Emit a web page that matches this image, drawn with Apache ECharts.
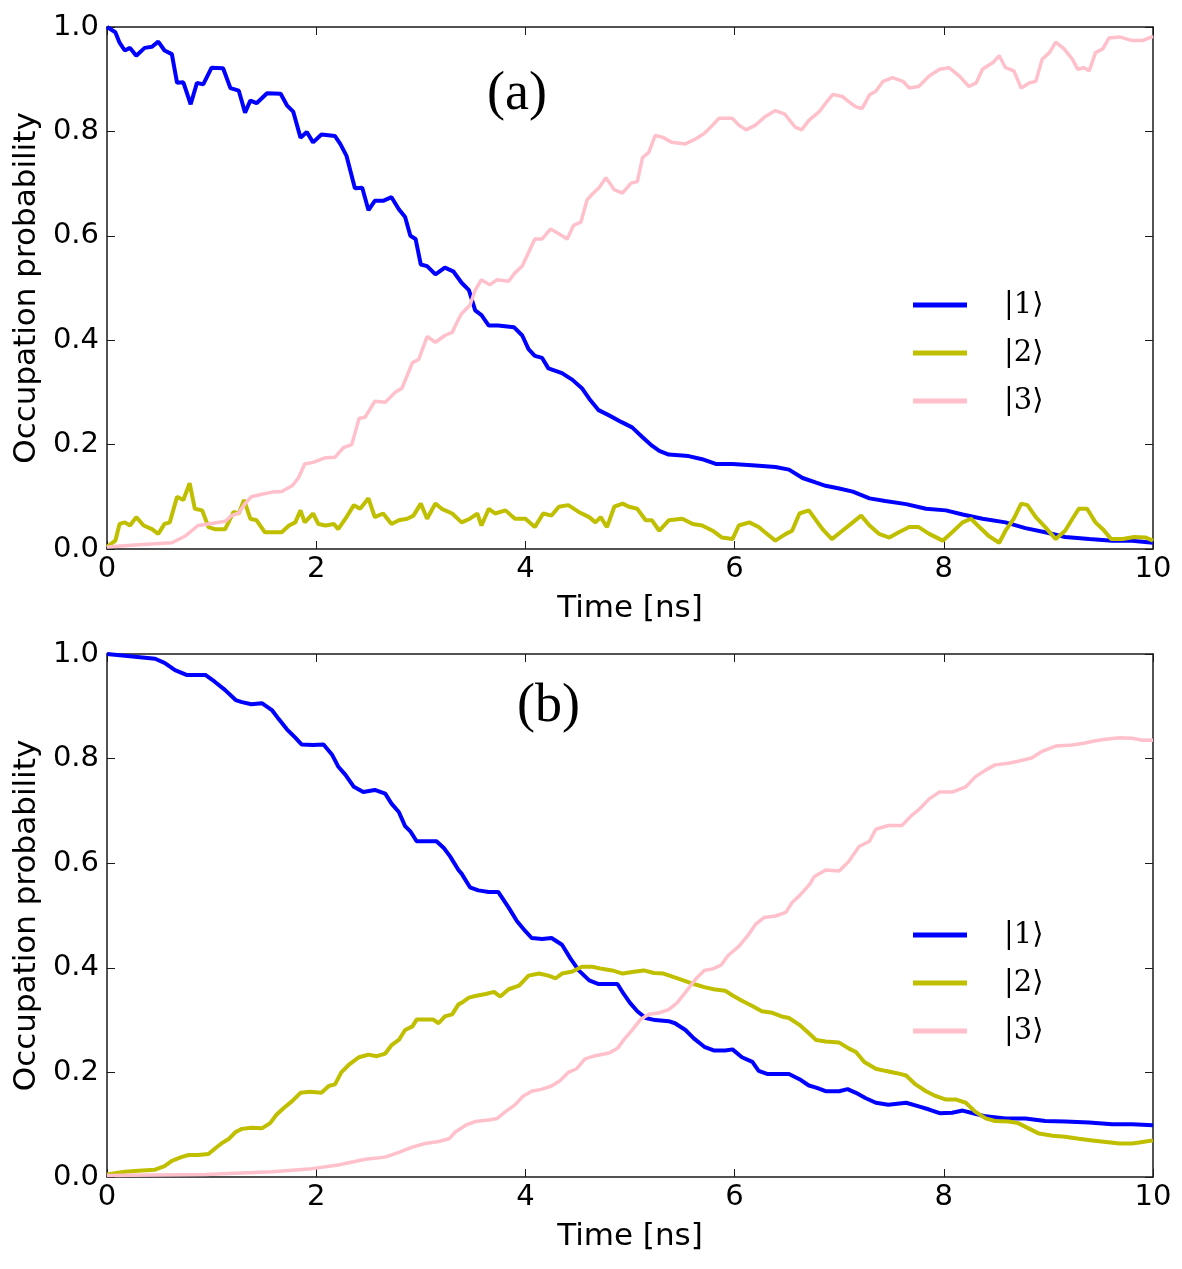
<!DOCTYPE html>
<html>
<head>
<meta charset="utf-8">
<title>Occupation probability</title>
<script src="https://cdn.jsdelivr.net/npm/echarts@6.0.0/dist/echarts.min.js"></script>
<style>
  html, body { margin: 0; padding: 0; background: #fff; }
  #chart { width: 1182px; height: 1269px; }
</style>
</head>
<body>
<div id="chart"></div>
<script>
// legend names and panel tags
const stateNames = ['|1\u27E9', '|2\u27E9', '|3\u27E9'];
const panelTags = ['(a)', '(b)'];
const xTicks = [0, 2, 4, 6, 8, 10];
const yTicks = [0, 0.2, 0.4, 0.6, 0.8, 1.0];

// panel (a): [time ns, probability]
const a1 = [[0,1.0],[0.08,0.99],[0.12,0.97],[0.17,0.955],[0.22,0.96],[0.28,0.945],[0.36,0.96],[0.43,0.962],[0.49,0.972],[0.55,0.955],[0.62,0.948],[0.67,0.893],[0.73,0.894],[0.80,0.852],[0.86,0.893],[0.92,0.89],[1.0,0.922],[1.11,0.921],[1.18,0.883],[1.26,0.878],[1.32,0.836],[1.37,0.859],[1.43,0.854],[1.53,0.873],[1.66,0.872],[1.72,0.85],[1.78,0.838],[1.85,0.788],[1.91,0.799],[1.97,0.779],[2.05,0.794],[2.18,0.791],[2.23,0.776],[2.29,0.753],[2.37,0.691],[2.44,0.692],[2.50,0.649],[2.56,0.667],[2.64,0.667],[2.72,0.674],[2.79,0.651],[2.85,0.636],[2.90,0.6],[2.95,0.594],[3.0,0.545],[3.06,0.542],[3.14,0.526],[3.23,0.539],[3.31,0.532],[3.39,0.51],[3.46,0.496],[3.52,0.457],[3.58,0.448],[3.65,0.428],[3.74,0.428],[3.89,0.425],[3.97,0.409],[4.03,0.383],[4.09,0.37],[4.16,0.366],[4.22,0.346],[4.35,0.337],[4.45,0.324],[4.54,0.308],[4.61,0.288],[4.70,0.266],[4.80,0.256],[4.92,0.243],[5.02,0.233],[5.12,0.214],[5.21,0.198],[5.28,0.188],[5.37,0.181],[5.56,0.178],[5.69,0.172],[5.82,0.163],[5.98,0.163],[6.20,0.16],[6.39,0.157],[6.52,0.152],[6.65,0.136],[6.78,0.127],[6.87,0.121],[7.0,0.116],[7.13,0.11],[7.29,0.097],[7.44,0.092],[7.64,0.086],[7.83,0.077],[8.02,0.074],[8.18,0.066],[8.37,0.058],[8.59,0.051],[8.78,0.04],[8.97,0.032],[9.16,0.023],[9.39,0.019],[9.61,0.016],[9.80,0.016],[10,0.012]];
const a2 = [[0,0.004],[0.08,0.016],[0.12,0.048],[0.17,0.051],[0.22,0.045],[0.28,0.061],[0.35,0.045],[0.43,0.038],[0.49,0.029],[0.55,0.048],[0.60,0.051],[0.67,0.1],[0.73,0.094],[0.79,0.126],[0.84,0.077],[0.91,0.074],[0.97,0.042],[1.03,0.038],[1.13,0.038],[1.21,0.071],[1.26,0.068],[1.31,0.094],[1.37,0.058],[1.43,0.055],[1.51,0.032],[1.61,0.032],[1.67,0.032],[1.74,0.045],[1.80,0.051],[1.85,0.074],[1.89,0.051],[1.97,0.068],[2.02,0.048],[2.09,0.045],[2.17,0.048],[2.21,0.038],[2.28,0.058],[2.36,0.084],[2.42,0.077],[2.50,0.097],[2.56,0.061],[2.64,0.068],[2.72,0.048],[2.79,0.055],[2.87,0.058],[2.93,0.064],[3.0,0.087],[3.06,0.058],[3.14,0.087],[3.20,0.077],[3.30,0.068],[3.39,0.051],[3.47,0.058],[3.54,0.068],[3.58,0.045],[3.65,0.077],[3.71,0.068],[3.81,0.074],[3.90,0.058],[4.0,0.058],[4.09,0.042],[4.17,0.068],[4.25,0.064],[4.32,0.081],[4.41,0.084],[4.51,0.071],[4.61,0.061],[4.67,0.051],[4.72,0.061],[4.78,0.042],[4.85,0.081],[4.93,0.087],[4.99,0.081],[5.07,0.077],[5.15,0.055],[5.21,0.055],[5.28,0.035],[5.37,0.055],[5.50,0.058],[5.60,0.048],[5.69,0.045],[5.79,0.035],[5.88,0.022],[5.98,0.019],[6.04,0.045],[6.14,0.051],[6.23,0.042],[6.29,0.032],[6.39,0.016],[6.49,0.029],[6.55,0.035],[6.62,0.068],[6.71,0.074],[6.84,0.038],[6.93,0.019],[7.03,0.035],[7.13,0.051],[7.21,0.064],[7.29,0.045],[7.38,0.029],[7.48,0.022],[7.57,0.032],[7.67,0.042],[7.76,0.042],[7.86,0.029],[7.99,0.016],[8.08,0.032],[8.18,0.051],[8.26,0.058],[8.34,0.042],[8.43,0.025],[8.53,0.012],[8.59,0.035],[8.67,0.058],[8.74,0.087],[8.80,0.084],[8.88,0.061],[8.97,0.042],[9.07,0.019],[9.16,0.035],[9.23,0.058],[9.29,0.077],[9.37,0.077],[9.45,0.051],[9.52,0.038],[9.60,0.019],[9.71,0.019],[9.82,0.023],[9.93,0.022],[10,0.016]];
const a3 = [[0,0.004],[0.30,0.008],[0.62,0.012],[0.75,0.025],[0.87,0.045],[1.0,0.049],[1.13,0.053],[1.19,0.064],[1.26,0.069],[1.32,0.087],[1.38,0.1],[1.48,0.105],[1.58,0.109],[1.67,0.11],[1.77,0.121],[1.83,0.136],[1.89,0.163],[1.97,0.166],[2.09,0.175],[2.18,0.176],[2.26,0.194],[2.34,0.2],[2.41,0.25],[2.47,0.253],[2.56,0.283],[2.66,0.281],[2.76,0.301],[2.82,0.308],[2.92,0.357],[2.98,0.363],[3.06,0.407],[3.14,0.396],[3.23,0.409],[3.30,0.415],[3.36,0.44],[3.39,0.451],[3.47,0.467],[3.52,0.496],[3.58,0.516],[3.66,0.506],[3.73,0.516],[3.84,0.513],[3.90,0.529],[3.97,0.542],[4.03,0.568],[4.09,0.594],[4.16,0.594],[4.24,0.613],[4.32,0.604],[4.40,0.594],[4.46,0.62],[4.53,0.626],[4.59,0.669],[4.65,0.682],[4.70,0.691],[4.77,0.711],[4.85,0.688],[4.93,0.682],[5.01,0.701],[5.07,0.704],[5.12,0.75],[5.18,0.76],[5.24,0.792],[5.31,0.789],[5.40,0.779],[5.53,0.776],[5.63,0.786],[5.71,0.796],[5.79,0.812],[5.85,0.825],[5.98,0.825],[6.04,0.812],[6.11,0.803],[6.20,0.812],[6.29,0.828],[6.39,0.84],[6.48,0.833],[6.58,0.808],[6.64,0.803],[6.71,0.821],[6.81,0.838],[6.87,0.854],[6.94,0.871],[7.03,0.867],[7.09,0.857],[7.16,0.847],[7.22,0.844],[7.29,0.87],[7.35,0.877],[7.42,0.896],[7.51,0.903],[7.61,0.896],[7.67,0.883],[7.76,0.886],[7.86,0.906],[7.96,0.919],[8.05,0.922],[8.15,0.906],[8.24,0.886],[8.31,0.893],[8.37,0.919],[8.47,0.932],[8.53,0.945],[8.59,0.922],[8.67,0.916],[8.74,0.883],[8.82,0.893],[8.88,0.896],[8.94,0.938],[9.01,0.951],[9.07,0.971],[9.15,0.958],[9.23,0.938],[9.28,0.919],[9.34,0.922],[9.39,0.916],[9.45,0.951],[9.52,0.958],[9.58,0.979],[9.68,0.981],[9.80,0.974],[9.90,0.974],[10,0.982]];

// panel (b)
const b1 = [[0,1.0],[0.46,0.991],[0.55,0.983],[0.65,0.969],[0.76,0.96],[0.94,0.96],[1.03,0.947],[1.13,0.931],[1.23,0.912],[1.29,0.908],[1.38,0.904],[1.48,0.906],[1.58,0.892],[1.64,0.876],[1.72,0.856],[1.80,0.84],[1.86,0.827],[1.97,0.826],[2.07,0.827],[2.15,0.808],[2.21,0.785],[2.28,0.769],[2.36,0.746],[2.45,0.736],[2.56,0.74],[2.66,0.733],[2.72,0.714],[2.79,0.698],[2.85,0.671],[2.90,0.661],[2.96,0.642],[3.07,0.642],[3.15,0.642],[3.22,0.629],[3.28,0.613],[3.36,0.587],[3.39,0.58],[3.47,0.554],[3.55,0.548],[3.65,0.545],[3.74,0.545],[3.84,0.515],[3.92,0.489],[4.0,0.47],[4.06,0.457],[4.16,0.455],[4.25,0.457],[4.35,0.444],[4.43,0.418],[4.51,0.395],[4.61,0.376],[4.70,0.369],[4.80,0.369],[4.88,0.369],[4.94,0.35],[5.0,0.333],[5.07,0.317],[5.15,0.304],[5.24,0.3],[5.37,0.298],[5.43,0.294],[5.53,0.281],[5.61,0.265],[5.71,0.249],[5.80,0.242],[5.91,0.242],[5.98,0.244],[6.07,0.229],[6.17,0.22],[6.23,0.203],[6.31,0.197],[6.42,0.197],[6.52,0.197],[6.62,0.187],[6.71,0.175],[6.78,0.171],[6.87,0.164],[7.0,0.164],[7.08,0.168],[7.16,0.161],[7.25,0.151],[7.35,0.142],[7.47,0.138],[7.64,0.142],[7.76,0.135],[7.86,0.129],[7.96,0.122],[8.08,0.123],[8.18,0.127],[8.28,0.122],[8.40,0.116],[8.59,0.112],[8.78,0.112],[8.97,0.107],[9.16,0.106],[9.39,0.104],[9.61,0.101],[9.80,0.101],[10,0.099]];
const b2 = [[0,0.005],[0.17,0.01],[0.30,0.012],[0.46,0.014],[0.55,0.021],[0.62,0.031],[0.71,0.038],[0.78,0.042],[0.87,0.042],[0.97,0.044],[1.03,0.054],[1.10,0.065],[1.16,0.072],[1.23,0.086],[1.29,0.092],[1.38,0.094],[1.48,0.093],[1.56,0.103],[1.62,0.119],[1.69,0.132],[1.77,0.145],[1.85,0.161],[1.94,0.163],[2.05,0.161],[2.12,0.174],[2.18,0.177],[2.24,0.2],[2.32,0.216],[2.41,0.229],[2.50,0.234],[2.58,0.231],[2.66,0.236],[2.72,0.252],[2.79,0.262],[2.85,0.281],[2.92,0.288],[2.96,0.301],[3.04,0.301],[3.12,0.301],[3.17,0.294],[3.23,0.307],[3.30,0.311],[3.36,0.33],[3.39,0.333],[3.46,0.343],[3.52,0.346],[3.62,0.35],[3.70,0.354],[3.76,0.345],[3.84,0.359],[3.94,0.366],[4.03,0.385],[4.13,0.389],[4.22,0.385],[4.29,0.38],[4.35,0.389],[4.45,0.393],[4.54,0.402],[4.64,0.402],[4.73,0.398],[4.83,0.395],[4.93,0.389],[5.02,0.392],[5.13,0.395],[5.23,0.39],[5.32,0.389],[5.42,0.382],[5.51,0.376],[5.61,0.369],[5.71,0.363],[5.80,0.359],[5.91,0.356],[5.99,0.346],[6.07,0.337],[6.17,0.327],[6.26,0.317],[6.36,0.314],[6.45,0.307],[6.52,0.304],[6.62,0.291],[6.71,0.275],[6.78,0.262],[6.87,0.259],[7.0,0.257],[7.09,0.246],[7.16,0.239],[7.24,0.22],[7.35,0.207],[7.44,0.203],[7.54,0.199],[7.64,0.194],[7.73,0.177],[7.83,0.164],[7.92,0.155],[8.02,0.148],[8.12,0.148],[8.21,0.142],[8.30,0.125],[8.40,0.112],[8.49,0.107],[8.62,0.106],[8.71,0.103],[8.81,0.093],[8.91,0.083],[9.04,0.079],[9.16,0.077],[9.29,0.073],[9.42,0.07],[9.55,0.067],[9.68,0.064],[9.80,0.064],[9.90,0.067],[10,0.07]];
const b3 = [[0,0.003],[0.94,0.005],[1.58,0.01],[1.96,0.016],[2.21,0.023],[2.47,0.034],[2.66,0.038],[2.79,0.047],[2.92,0.057],[3.04,0.064],[3.17,0.068],[3.27,0.073],[3.33,0.086],[3.43,0.099],[3.52,0.106],[3.65,0.109],[3.73,0.112],[3.81,0.125],[3.90,0.138],[3.98,0.155],[4.06,0.164],[4.16,0.168],[4.25,0.174],[4.33,0.184],[4.41,0.2],[4.49,0.207],[4.57,0.226],[4.67,0.232],[4.80,0.237],[4.88,0.246],[4.94,0.262],[5.02,0.281],[5.10,0.301],[5.18,0.311],[5.28,0.314],[5.37,0.32],[5.45,0.333],[5.53,0.353],[5.63,0.379],[5.71,0.395],[5.79,0.398],[5.87,0.405],[5.94,0.424],[6.04,0.441],[6.12,0.46],[6.20,0.483],[6.28,0.496],[6.39,0.499],[6.49,0.506],[6.55,0.525],[6.62,0.538],[6.72,0.56],[6.76,0.574],[6.87,0.587],[7.0,0.585],[7.09,0.603],[7.19,0.632],[7.29,0.642],[7.35,0.665],[7.47,0.672],[7.60,0.672],[7.69,0.691],[7.77,0.704],[7.86,0.723],[7.96,0.736],[8.08,0.736],[8.21,0.746],[8.30,0.765],[8.40,0.778],[8.49,0.788],[8.62,0.791],[8.71,0.795],[8.84,0.801],[8.94,0.814],[9.07,0.824],[9.23,0.826],[9.35,0.83],[9.45,0.834],[9.55,0.837],[9.68,0.84],[9.80,0.839],[9.90,0.835],[10,0.835]];

const colors = ['#0000ff', '#bfbf00', '#ffc0cb'];
const frameColor = '#1a1a1a';
const sansFont = '"DejaVu Sans", "Bitstream Vera Sans", sans-serif';
const serifFont = '"DejaVu Serif", "Liberation Serif", serif';

let myChart = echarts.init(document.getElementById('chart'), null, { renderer: 'canvas' });

// one x axis (bottom or top) for a panel
function xAxisFor(gridIndex, position) {
  let isBottom = position === 'bottom';
  return {
    type: 'value',
    gridIndex: gridIndex,
    position: position,
    min: xTicks[0],
    max: xTicks[xTicks.length - 1],
    interval: 2,
    name: isBottom ? 'Time [ns]' : '',
    nameLocation: 'middle',
    nameGap: 44,
    nameTextStyle: { color: '#000', fontSize: 31, fontFamily: sansFont },
    axisLine: { show: true, onZero: false, lineStyle: { color: frameColor, width: 1.5 } },
    axisTick: { show: true, inside: true, length: 8, lineStyle: { color: frameColor, width: 1 } },
    axisLabel: { show: isBottom, margin: 6, color: '#000', fontSize: 29, fontFamily: sansFont },
    splitLine: { show: false },
  };
}

// one y axis (left or right) for a panel
function yAxisFor(gridIndex, position) {
  let isLeft = position === 'left';
  return {
    type: 'value',
    gridIndex: gridIndex,
    position: position,
    min: yTicks[0],
    max: yTicks[yTicks.length - 1],
    interval: 0.2,
    name: isLeft ? 'Occupation probability' : '',
    nameLocation: 'middle',
    nameRotate: 90,
    nameGap: 64,
    nameTextStyle: { color: '#000', fontSize: 31, fontFamily: sansFont },
    axisLine: { show: true, onZero: false, lineStyle: { color: frameColor, width: 1.5 } },
    axisTick: { show: true, inside: true, length: 8, lineStyle: { color: frameColor, width: 1 } },
    axisLabel: {
      show: isLeft,
      margin: 8,
      color: '#000',
      fontSize: 29,
      fontFamily: sansFont,
      formatter: (v) => v.toFixed(1),
    },
    splitLine: { show: false },
  };
}

function lineSeries(name, data, idx, axisIdx) {
  return {
    name: name,
    type: 'line',
    xAxisIndex: axisIdx,
    yAxisIndex: axisIdx,
    data: data,
    showSymbol: false,
    symbol: 'none',
    smooth: false,
    lineStyle: { color: colors[idx], width: idx === 2 ? 3.5 : 4 },
    itemStyle: { color: colors[idx] },
    z: 2 + idx,
  };
}

function legendFor(top) {
  return {
    orient: 'vertical',
    left: 913,
    top: top,
    padding: 0,
    itemWidth: 54,
    itemHeight: 5,
    itemGap: 14,
    icon: 'rect',
    data: stateNames.map((n) => ({ name: n })),
    selectedMode: false,
    textStyle: {
      fontSize: 29,
      lineHeight: 34,
      fontFamily: serifFont,
      color: '#000',
      padding: [0, 0, 0, 32],
    },
  };
}

let option = {
  animation: false,
  backgroundColor: '#fff',
  grid: [
    { left: 107, top: 27, width: 1046, height: 522, containLabel: false },
    { left: 107, top: 654, width: 1046, height: 523, containLabel: false },
  ],
  xAxis: [
    xAxisFor(0, 'bottom'),
    xAxisFor(1, 'bottom'),
    xAxisFor(0, 'top'),
    xAxisFor(1, 'top'),
  ],
  yAxis: [
    yAxisFor(0, 'left'),
    yAxisFor(1, 'left'),
    yAxisFor(0, 'right'),
    yAxisFor(1, 'right'),
  ],
  legend: [legendFor(288), legendFor(918)],
  graphic: [
    {
      type: 'text',
      left: 517 - 30,
      top: 68,
      style: { text: panelTags[0], fontSize: 54, fontFamily: '"Liberation Serif", "Times New Roman", serif', fill: '#000' },
    },
    {
      type: 'text',
      left: 549 - 32,
      top: 680,
      style: { text: panelTags[1], fontSize: 54, fontFamily: '"Liberation Serif", "Times New Roman", serif', fill: '#000' },
    },
  ],
  series: [
    lineSeries(stateNames[0], a1, 0, 0),
    lineSeries(stateNames[1], a2, 1, 0),
    lineSeries(stateNames[2], a3, 2, 0),
    lineSeries(stateNames[0], b1, 0, 1),
    lineSeries(stateNames[1], b2, 1, 1),
    lineSeries(stateNames[2], b3, 2, 1),
  ],
};

myChart.setOption(option, true);
window.addEventListener('resize', () => {
  myChart.resize();
});
</script>
</body>
</html>
